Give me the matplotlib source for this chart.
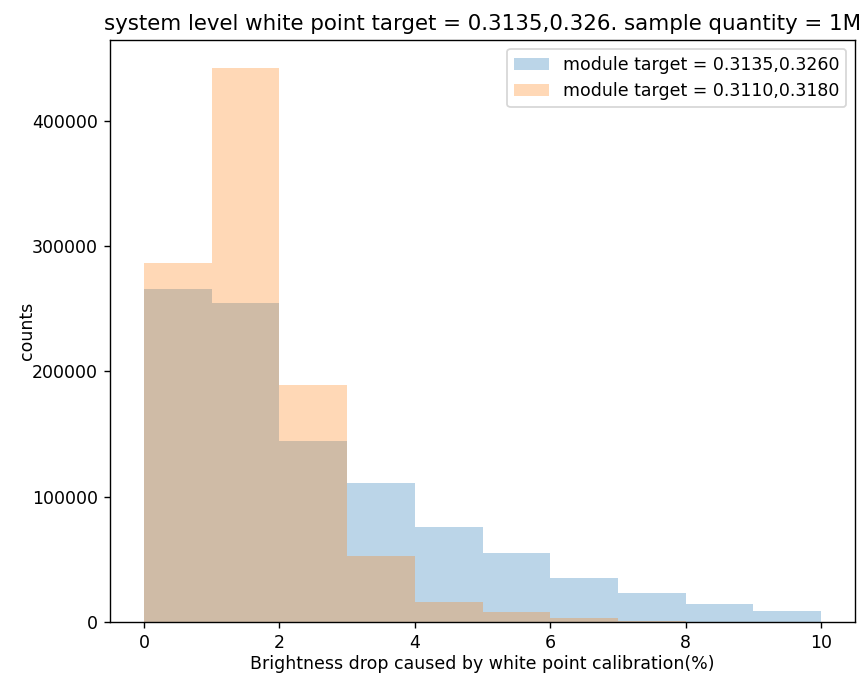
import numpy as np
import matplotlib
matplotlib.use('Agg')
import matplotlib.pyplot as plt

# histogram bins (brightness drop, %)
bin_edges = [0, 1, 2, 3, 4, 5, 6, 7, 8, 9, 10]
# counts
counts_3260 = [265500, 254500, 144000, 111000, 76000, 55000, 35000, 23200, 14100, 8400]
counts_3180 = [286000, 442000, 189000, 53000, 16300, 7800, 3000, 1000, 200, 0]

labels = ['module target = 0.3135,0.3260', 'module target = 0.3110,0.3180']

dpi = 125
fig = plt.figure(figsize=(861 / dpi, 675 / dpi), dpi=dpi)
ax = fig.add_axes([0.128, 0.0785, 0.865, 0.862])

left = np.array(bin_edges[:-1])
ax.hist(left, bins=bin_edges, weights=counts_3260, alpha=0.3, label=labels[0])
ax.hist(left, bins=bin_edges, weights=counts_3180, alpha=0.3, label=labels[1])

ax.set_xlabel('Brightness drop caused by white point calibration(%)', labelpad=1.5)
ax.set_ylabel('counts')
ax.yaxis.set_label_coords(-0.1, 0.5)
ax.set_title('system level white point target = 0.3135,0.326. sample quantity = 1M',
             fontsize=12.3)
ax.legend(loc='upper right')

fig.savefig('out.png', dpi=dpi)
